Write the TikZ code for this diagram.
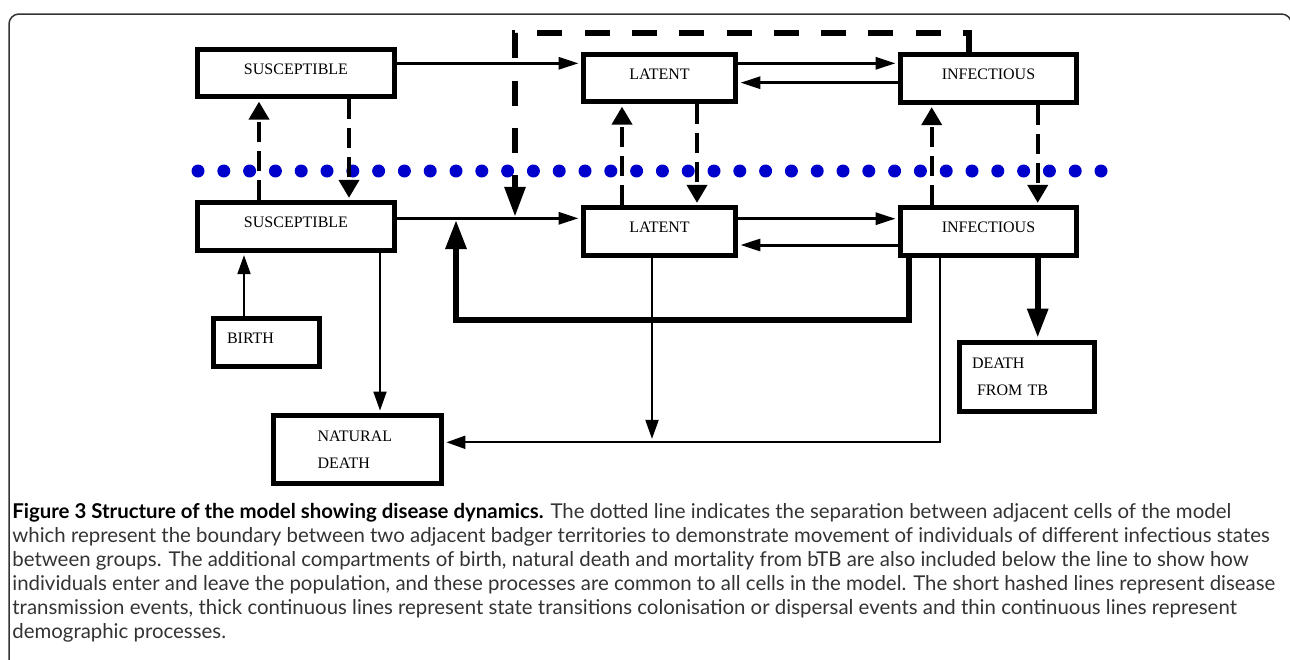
\documentclass[tikz,border=0pt]{standalone}
\usepackage{fontspec}
\setmainfont{Liberation Serif}
\newfontfamily\capfont{Lato}
\usepackage{tikz}
\usetikzlibrary{arrows.meta}
\definecolor{dotblue}{RGB}{0,0,204}

\begin{document}
\begin{tikzpicture}[x=0.5pt,y=-0.5pt,>={Triangle[length=10pt,width=6pt]},
                    box/.style={draw,line width=2.5pt,inner sep=0pt,font=\fontsize{8}{13.75}\selectfont},
                    cell/.style={box,text depth=4pt,minimum height=23.75pt},
                    trans/.style={->,line width=1.5pt,shorten >=1.2pt},
                    contact/.style={-{Triangle[length=9pt,width=10pt]},line width=2pt,dash pattern=on 10pt off 4.5pt,shorten >=1.2pt},
                    far/.style={-{Triangle[length=15pt,width=10pt]},line width=3pt,dash pattern=on 12.5pt off 11.15pt},
                    move/.style={-{Triangle[length=14.5pt,width=10pt]},line width=3pt},
                    demo/.style={-{Triangle[length=9.5pt,width=6.5pt]},line width=1pt,shorten >=1.2pt}]

  \useasboundingbox (0,0) rectangle (1290,659);
  \draw[black!80,line width=0.75pt,rounded corners=5pt] (9,700) |- (1291.5,14) -- (1291.5,700);

  \foreach \i in {0,...,35}
    \fill[dotblue] (198+25.8*\i,171) circle (3.25pt);

  \node[cell,minimum width=98.5pt] (s1) at (296,73) {SUSCEPTIBLE};
  \node[cell,minimum width=98.5pt] (s2) at (296,226.5) {SUSCEPTIBLE};
  \node[cell,minimum width=76pt] (l1) at (659.5,78) {LATENT};
  \node[cell,minimum width=76pt] (l2) at (659.5,231.5) {LATENT};
  \node[cell,minimum width=88pt] (i1) at (988.5,78.5) {INFECTIOUS};
  \node[cell,minimum width=88pt] (i2) at (988.5,231.5) {INFECTIOUS};
  \node[cell,minimum width=53pt,minimum height=24pt,text width=39.5pt,align=left] (birth) at (266.5,342.5) {BIRTH};
  \node[box,minimum width=84pt,minimum height=34pt,text width=40pt,align=left] (nat) at (357.5,449.5) {NATURAL\\DEATH};
  \node[box,minimum width=67.5pt,minimum height=34.5pt,text width=55pt,align=left] (tb) at (1027,377) {DEATH\\\hspace*{2.5pt}FROM TB};

  \coordinate (drop) at (515,216.8);
  \coordinate (back) at (456,220);
  \coordinate (gather) at (652,441.3);

  \draw[trans] ([yshift=4.85pt]s1.east) -- ([yshift=4.85pt]s1.east -| l1.west);
  \draw[trans] ([yshift=4.1pt]s2.east) -- ([yshift=4.1pt]s2.east -| l2.west);
  \draw[trans] ([yshift=7.35pt]l1.east) -- ([yshift=7.35pt]l1.east -| i1.west);
  \draw[trans] ([yshift=-2.1pt]i1.west) -- ([yshift=-2.1pt]i1.west -| l1.east);
  \draw[trans] ([yshift=6.4pt]l2.east) -- ([yshift=6.4pt]l2.east -| i2.west);
  \draw[trans] ([yshift=-6.75pt]i2.west) -- ([yshift=-6.75pt]i2.west -| l2.east);

  \draw[contact] ([xshift=-18.5pt]s2.north) -- ([xshift=-18.5pt]s2.north |- s1.south);
  \draw[contact] ([xshift=26.5pt]s1.south) -- ([xshift=26.5pt]s1.south |- s2.north);
  \draw[contact] ([xshift=-18.75pt]l2.north) -- ([xshift=-18.75pt]l2.north |- l1.south);
  \draw[contact] ([xshift=18.75pt]l1.south) -- ([xshift=18.75pt]l1.south |- l2.north);
  \draw[contact] ([xshift=-28.4pt]i2.north) -- ([xshift=-28.4pt]i2.north |- i1.south);
  \draw[contact] ([xshift=24.6pt]i1.south) -- ([xshift=24.6pt]i1.south |- i2.north);

  \draw[far] ([xshift=-9.75pt]i1.north) -- ++(0,-19) -| (drop);
  \draw[move] ([xshift=-39.75pt]i2.south) -- ++(0,62.5) -| (back);
  \draw[move,shorten >=1.2pt] ([xshift=24.6pt]i2.south) -- ([xshift=24.6pt]i2.south |- tb.north);

  \draw[demo] ([xshift=-11.25pt]birth.north) -- ([xshift=-11.25pt]birth.north |- s2.south);
  \draw[demo] ([xshift=42pt]s2.south) -- ([xshift=42pt]s2.south |- nat.north);
  \draw[demo] ([xshift=-3.75pt]l2.south) -- (gather);
  \draw[demo] ([xshift=-24.25pt]i2.south) |- ([yshift=3.6pt]nat.east);

  \node[anchor=north west,align=left,inner sep=0pt,text=black!80,
        font=\capfont\fontsize{10.2}{12}\selectfont] (cap) at (12,503)
    {\textcolor{black}{\textbf{Figure 3 Structure of the model showing disease dynamics.}} The dotted line indicates the separation between adjacent cells of the model\\
     which represent the boundary between two adjacent badger territories to demonstrate movement of individuals of different infectious states\\
     between groups. The additional compartments of birth, natural death and mortality from bTB are also included below the line to show how\\
     individuals enter and leave the population, and these processes are common to all cells in the model. The short hashed lines represent disease\\
     transmission events, thick continuous lines represent state transitions colonisation or dispersal events and thin continuous lines represent\\
     demographic processes.};
\end{tikzpicture}
\end{document}
